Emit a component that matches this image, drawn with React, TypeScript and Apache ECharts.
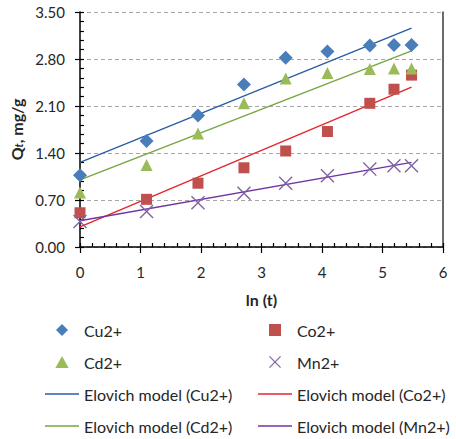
import React, { useEffect, useRef } from "react";
import * as echarts from "echarts";

// ln(t) for each sampling time
const lnT = [0, 1.1, 1.95, 2.71, 3.4, 4.09, 4.79, 5.19, 5.48];

// Measured uptake Qt (mg/g)
const cu = [1.07, 1.58, 1.96, 2.42, 2.82, 2.91, 3.0, 3.01, 3.01];
const co = [0.51, 0.71, 0.95, 1.18, 1.43, 1.72, 2.14, 2.35, 2.56];
const cd = [0.81, 1.22, 1.69, 2.14, 2.51, 2.59, 2.65, 2.66, 2.66];
const mn = [0.38, 0.53, 0.66, 0.8, 0.95, 1.06, 1.16, 1.21, 1.21];

// Elovich fit lines, evaluated at both ends of the ln(t) range
const fitX = [0, 5.48];
const cuFit = [1.26, 3.26];
const coFit = [0.3, 2.38];
const cdFit = [1.0, 2.92];
const mnFit = [0.39, 1.26];

const FONT = "Lato, 'Open Sans', sans-serif";
const TEXT = "#262626";

// Marker and legend-icon shapes
const X_MARK = "path://M0,0.7L0.7,0L10,9.3L9.3,10Z M9.3,0L10,0.7L0.7,10L0,9.3Z";
const DIAMOND_ICON = "path://M6,0L12,6L6,12L0,6Z";
const SQUARE_ICON = "path://M0,0H10V10H0Z";
const TRIANGLE_ICON = "path://M5,0L10,9H0Z";
const LINE_ICON = "path://M0,0H34V1.4H0Z";

const COLORS = {
  cu: "#4a7ebb",
  co: "#c0504d",
  cd: "#9bbb59",
  mn: "#8064a2",
  cuFit: "#2b5ca6",
  coFit: "#e3262c",
  cdFit: "#76a640",
  mnFit: "#7035a3",
};

const pairs = (xs: number[], ys: number[]) => xs.map((x, i) => [x, ys[i]]);

export default function App() {
  const ref = useRef<HTMLDivElement>(null);

  useEffect(() => {
    if (!ref.current) return;
    const chart = echarts.init(ref.current, undefined, { renderer: "svg" });

    const scatter = (name: string, ys: number[], symbol: string, size: number, color: string) => ({
      name,
      type: "scatter",
      data: pairs(lnT, ys),
      symbol,
      symbolSize: size,
      itemStyle: { color, opacity: 1 },
      z: 5,
    });

    const fit = (name: string, ys: number[], color: string) => ({
      name,
      type: "line",
      data: pairs(fitX, ys),
      symbol: "none",
      lineStyle: { color, width: 1.4 },
      itemStyle: { color },
      z: 3,
    });

    const legendBase = {
      orient: "vertical",
      top: 322,
      height: 117,
      padding: 0,
      itemWidth: 34,
      itemHeight: 12,
      itemGap: 16,
      symbolKeepAspect: true,
      textStyle: { fontFamily: FONT, fontSize: 16, lineHeight: 16, color: TEXT },
    };

    chart.setOption({
      animation: false,
      backgroundColor: "#ffffff",
      grid: { left: 78, right: 13, top: 12, bottom: 192, containLabel: false },
      xAxis: [
        {
          type: "value",
          min: 0,
          max: 6,
          interval: 1,
          name: "ln (t)",
          nameLocation: "middle",
          nameGap: 44,
          nameTextStyle: { fontFamily: FONT, fontSize: 16, fontWeight: "bold", color: TEXT },
          axisLine: { show: true, lineStyle: { color: "#000", width: 1.5 } },
          axisTick: { show: true, inside: false, length: 6, lineStyle: { color: "#000", width: 1.2 } },
          axisLabel: { margin: 17, fontFamily: FONT, fontSize: 15, color: TEXT },
          splitLine: { show: false },
        },
        {
          type: "value",
          position: "bottom",
          min: 0,
          max: 6,
          interval: 1,
          axisLine: { show: false },
          axisTick: { show: true, inside: true, length: 4, lineStyle: { color: "#000", width: 1.2 } },
          minorTick: { show: true, splitNumber: 5, length: 4, lineStyle: { color: "#000", width: 1.2 } },
          axisLabel: { show: false },
          splitLine: { show: false },
        },
      ],
      yAxis: [
        {
          type: "value",
          min: 0,
          max: 3.5,
          interval: 0.7,
          name: "{q|Q}{t|t}{q|, mg/g}",
          nameLocation: "middle",
          nameRotate: 90,
          nameGap: 56,
          nameTextStyle: {
            rich: {
              q: { fontFamily: FONT, fontSize: 16, fontWeight: "bold", color: TEXT, verticalAlign: "bottom", lineHeight: 20 },
              t: { fontFamily: FONT, fontSize: 11, fontWeight: "bold", fontStyle: "italic", color: TEXT, verticalAlign: "bottom", lineHeight: 14 },
            },
          },
          axisLine: { show: true, lineStyle: { color: "#000", width: 1.5 } },
          axisTick: { show: true, inside: false, length: 5, lineStyle: { color: "#000", width: 1.2 } },
          axisLabel: {
            margin: 15,
            fontFamily: FONT,
            fontSize: 15,
            color: TEXT,
            formatter: (v: number) => v.toFixed(2),
          },
          splitLine: { show: true, lineStyle: { color: "#a6a6a6", width: 1, type: [4, 3] } },
        },
        {
          type: "value",
          position: "left",
          min: 0,
          max: 3.5,
          interval: 0.7,
          axisLine: { show: false },
          axisTick: { show: true, inside: true, length: 4, lineStyle: { color: "#000", width: 1.2 } },
          minorTick: { show: true, splitNumber: 5, length: 4, lineStyle: { color: "#000", width: 1.2 } },
          axisLabel: { show: false },
          splitLine: { show: false },
        },
        {
          type: "value",
          position: "right",
          min: 0,
          max: 3.5,
          interval: 0.7,
          axisLine: { show: true, lineStyle: { color: "#3a3a3a", width: 1.5 } },
          axisTick: { show: false },
          axisLabel: { show: false },
          splitLine: { show: false },
        },
      ],
      legend: [
        {
          ...legendBase,
          left: 45,
          data: [
            { name: "Cu2+", icon: DIAMOND_ICON },
            { name: "Cd2+", icon: TRIANGLE_ICON },
            { name: "Elovich model (Cu2+)", icon: LINE_ICON },
            { name: "Elovich model (Cd2+)", icon: LINE_ICON },
          ],
        },
        {
          ...legendBase,
          left: 258,
          data: [
            { name: "Co2+", icon: SQUARE_ICON },
            { name: "Mn2+", icon: X_MARK },
            { name: "Elovich model (Co2+)", icon: LINE_ICON },
            { name: "Elovich model (Mn2+)", icon: LINE_ICON },
          ],
        },
      ],
      series: [
        fit("Elovich model (Cu2+)", cuFit, COLORS.cuFit),
        fit("Elovich model (Co2+)", coFit, COLORS.coFit),
        fit("Elovich model (Cd2+)", cdFit, COLORS.cdFit),
        fit("Elovich model (Mn2+)", mnFit, COLORS.mnFit),
        scatter("Cu2+", cu, "diamond", 14, COLORS.cu),
        scatter("Co2+", co, "rect", 11, COLORS.co),
        scatter("Cd2+", cd, "triangle", 12, COLORS.cd),
        scatter("Mn2+", mn, X_MARK, 14, COLORS.mn),
      ],
    });

    return () => chart.dispose();
  }, []);

  return <div ref={ref} style={{ position: "absolute", left: 0, top: 0, width: 456, height: 439 }} />;
}
